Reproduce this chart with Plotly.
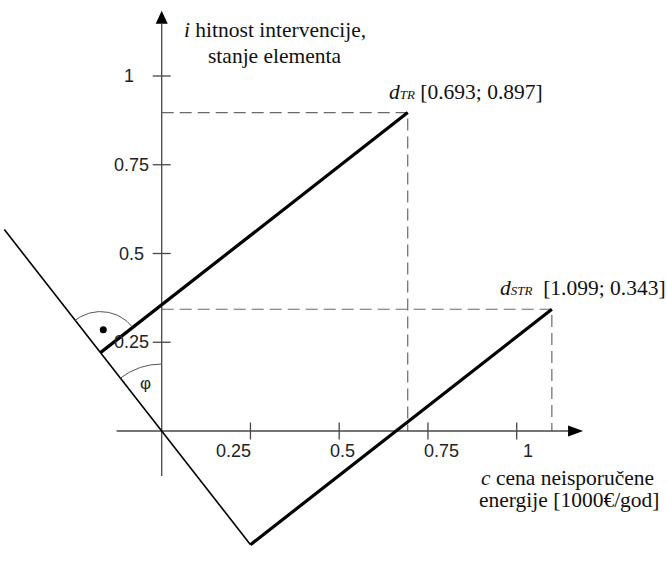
import numpy as np
import plotly.graph_objects as go

# Elements: c = cena neisporučene energije [1000€/god], i = hitnost intervencije
point_names = ["TR", "STR"]
cost = [0.693, 1.099]
urgency = [0.897, 0.343]

tick_values = [0.25, 0.5, 0.75, 1.0]
tick_labels = ["0.25", "0.5", "0.75", "1"]

phi_deg = 38.0  # angle between the ranking line and the i-axis

# ---- canvas / scale -------------------------------------------------------
W, H = 667, 569
PX = 355.0                 # pixels per unit (same on both axes)
X0_PX, Y0_PX = 161.7, 431.0  # origin position on the canvas
x_range = [-X0_PX / PX, (W - X0_PX) / PX]
y_range = [-(H - Y0_PX) / PX, Y0_PX / PX]


def px(v):
    """pixel length -> data length"""
    return v / PX


AX_COLOR = "#474747"
SERIF = "Liberation Serif"
SANS = "Liberation Sans"

x_axis_start, x_axis_end = -0.127, 1.187
y_axis_start, y_axis_end = -0.127, 1.184

phi = np.radians(phi_deg)
u = np.array([-np.sin(phi), np.cos(phi)])   # ranking line direction (up-left)
n = np.array([np.cos(phi), np.sin(phi)])    # perpendicular direction

pts = np.column_stack([cost, urgency])
proj = pts @ u
feet = np.outer(proj, u)

fig = go.Figure()

# dashed projections to the axes
for (c, i) in zip(cost, urgency):
    fig.add_trace(go.Scatter(
        x=[0, c, c], y=[i, i, 0], mode="lines",
        line=dict(color="#6a6a6a", width=1.2, dash="12px,6px"),
        hoverinfo="skip", showlegend=False))

# axes
arrow_len_x, arrow_len_y = px(15), px(13)
fig.add_trace(go.Scatter(
    x=[x_axis_start, x_axis_end - arrow_len_x, None, 0, 0],
    y=[0, 0, None, y_axis_start, y_axis_end - arrow_len_y],
    mode="lines", line=dict(color=AX_COLOR, width=1.3),
    hoverinfo="skip", showlegend=False))

# tick marks
tx, ty = [], []
for t in tick_values:
    tx += [t, t, None, -px(9), px(9), None]
    ty += [-px(8.5), px(8.5), None, t, t, None]
fig.add_trace(go.Scatter(x=tx, y=ty, mode="lines",
                         line=dict(color=AX_COLOR, width=1.3),
                         hoverinfo="skip", showlegend=False))

# ranking line through the origin
t_end = 0.72
t_line = np.array([proj.min(), t_end])
fig.add_trace(go.Scatter(x=t_line * u[0], y=t_line * u[1], mode="lines",
                         line=dict(color="black", width=1.6),
                         hoverinfo="skip", showlegend=False))

# perpendiculars from the line to each element
for k in range(len(cost)):
    fig.add_trace(go.Scatter(
        x=[feet[k, 0], cost[k]], y=[feet[k, 1], urgency[k]], mode="lines",
        line=dict(color="black", width=3.2),
        hoverinfo="skip", showlegend=False))

# right-angle marker at the upper foot
k_top = int(np.argmax(proj))
a_u = np.degrees(np.arctan2(u[1], u[0]))
a_n = np.degrees(np.arctan2(n[1], n[0]))
ang = np.radians(np.linspace(a_n, a_u, 40))
r_ra = px(41)
fig.add_trace(go.Scatter(
    x=feet[k_top, 0] + r_ra * np.cos(ang), y=feet[k_top, 1] + r_ra * np.sin(ang),
    mode="lines", line=dict(color="#555555", width=1),
    hoverinfo="skip", showlegend=False))
a_mid = np.radians((a_n + a_u) / 2)
fig.add_trace(go.Scatter(
    x=[feet[k_top, 0] + px(23) * np.cos(a_mid)],
    y=[feet[k_top, 1] + px(23) * np.sin(a_mid)],
    mode="markers", marker=dict(color="black", size=7, line=dict(width=0)),
    hoverinfo="skip", showlegend=False))

# angle phi between the i-axis and the ranking line
ang = np.radians(np.linspace(90, a_u, 30))
r_phi = px(67)
fig.add_trace(go.Scatter(x=r_phi * np.cos(ang), y=r_phi * np.sin(ang),
                         mode="lines", line=dict(color="#555555", width=1),
                         hoverinfo="skip", showlegend=False))

# arrow heads
shapes = [
    dict(type="path", xref="x", yref="y", line=dict(width=0), fillcolor="black",
         path=(f"M {x_axis_end},0 L {x_axis_end - arrow_len_x},{px(5.5)} "
               f"L {x_axis_end - arrow_len_x},{-px(5.5)} Z")),
    dict(type="path", xref="x", yref="y", line=dict(width=0), fillcolor="black",
         path=(f"M 0,{y_axis_end} L {px(6)},{y_axis_end - arrow_len_y} "
               f"L {-px(6)},{y_axis_end - arrow_len_y} Z")),
]

annotations = []
# x tick labels
x_label_shift = [-17, 3, 14, 11]
for t, lab, s in zip(tick_values, tick_labels, x_label_shift):
    annotations.append(dict(x=t, y=0, text=lab, showarrow=False, xshift=s,
                            yshift=-20, xanchor="center", yanchor="middle",
                            font=dict(family=SANS, size=18, color="#222222")))
# y tick labels
y_label_shift = [-11, -16, -11, -26]
for t, lab, s in zip(tick_values, tick_labels, y_label_shift):
    annotations.append(dict(x=0, y=t, text=lab, showarrow=False, xshift=s,
                            xanchor="right", yanchor="middle",
                            font=dict(family=SANS, size=18, color="#222222")))

# axis titles
serif_font = dict(family=SERIF, size=21.5, color="#111111")
annotations += [
    dict(x=px(274.5 - X0_PX), y=px(Y0_PX - 30), text="<i>i</i> hitnost intervencije,",
         showarrow=False, xanchor="center", yanchor="middle", font=serif_font),
    dict(x=px(274.5 - X0_PX), y=px(Y0_PX - 56), text="stanje elementa",
         showarrow=False, xanchor="center", yanchor="middle", font=serif_font),
    dict(x=px(567 - X0_PX), y=px(Y0_PX - 478), text="<i>c</i> cena neisporučene",
         showarrow=False, xanchor="center", yanchor="middle", font=serif_font),
    dict(x=px(569 - X0_PX), y=px(Y0_PX - 500), text="energije [1000€/god]",
         showarrow=False, xanchor="center", yanchor="middle", font=serif_font),
]

# point labels
label_xshift = [-21, -54]
label_gap = ["&nbsp;", "&nbsp;&nbsp;"]
for name, c, i, s, gap in zip(point_names, cost, urgency, label_xshift, label_gap):
    annotations.append(dict(
        x=c, y=i, xanchor="left", yanchor="middle", xshift=s, yshift=21,
        showarrow=False, font=serif_font,
        text=(f"<i>d</i><span style='font-size:13px'><i>{name}</i></span>"
              f"{gap}[{c:.3f}; {i:.3f}]")))

# phi symbol
a_phi = np.radians((90 + a_u) / 2)
annotations.append(dict(x=px(50) * np.cos(a_phi), y=px(50) * np.sin(a_phi),
                        text="φ", showarrow=False, xanchor="center",
                        yanchor="middle",
                        font=dict(family=SANS, size=17, color="#222222")))

fig.update_layout(
    width=W, height=H, margin=dict(l=0, r=0, t=0, b=0),
    paper_bgcolor="white", plot_bgcolor="white",
    xaxis=dict(range=x_range, visible=False, fixedrange=True),
    yaxis=dict(range=y_range, visible=False, fixedrange=True),
    shapes=shapes, annotations=annotations, showlegend=False)

fig.write_html("out.html")
